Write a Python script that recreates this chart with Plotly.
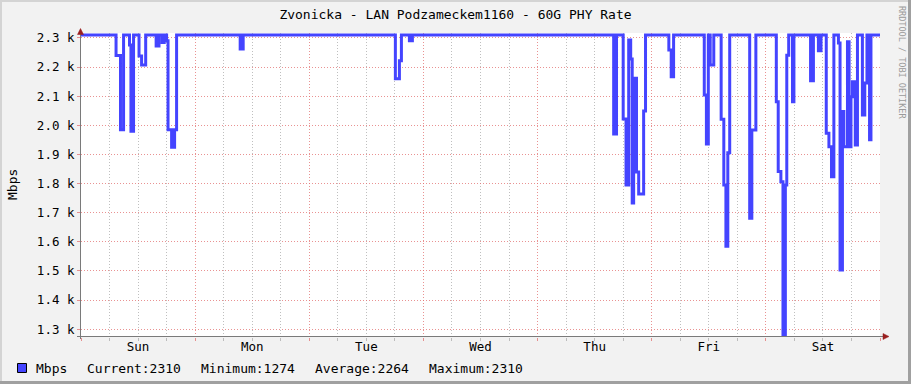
import plotly.graph_objects as go

# ---- data (hours since Sunday 00:00, Mbps) ----
hours = [0, 7.37, 8.3, 8.95, 10.2, 10.5, 11.05, 12.2, 12.74, 13.6, 15.8, 16.4, 17.05, 17.5,
         18.0, 18.3, 19.05, 19.68, 20.1, 33.47, 34.1, 66.1, 66.95, 67.37, 69.05, 69.68,
         112.0, 112.6, 114.0, 114.6, 115.16, 115.58, 115.9, 116.2, 116.8, 117.26, 118.3, 118.7,
         123.6, 124.1, 124.6, 131.05, 131.5, 131.9, 132.3, 133.05, 134.6, 135.16, 135.6, 136.0,
         136.4, 140.6, 141.05, 141.9, 146.2, 146.6, 147.16, 147.6, 148.1, 148.4, 148.8, 149.6,
         149.9, 153.4, 154.0, 155.05, 155.6, 156.7, 157.26, 157.8, 158.3, 159.26, 159.6, 160.1,
         160.4, 161.16, 161.5, 161.9, 162.2, 162.8, 163.26, 164.3, 164.8, 165.26, 165.8, 166.1, 168]
mbps = [2310, 2240, 1985, 2310, 2276, 1980, 2310, 2238, 2207, 2310, 2272, 2310, 2284, 2310,
        2290, 1985, 1925, 1985, 2310, 2262, 2310, 2160, 2222, 2310, 2290, 2310,
        1970, 2310, 2022, 1795, 2293, 2228, 1733, 2162, 1840, 1764, 2049, 2310,
        2259, 2167, 2310, 2104, 1936, 2310, 2207, 2310, 2021, 1795, 1585, 1906,
        2310, 1681, 1984, 2310, 2081, 1841, 1806, 1274, 1795, 2241, 2310, 2081,
        2310, 2153, 2310, 2256, 2310, 1973, 1926, 1823, 2310, 2283, 1503, 2047,
        1926, 2287, 1926, 2098, 2150, 1932, 2310, 2035, 2145, 2310, 1950, 2310, 2310]

day_labels = ["Sun", "Mon", "Tue", "Wed", "Thu", "Fri", "Sat"]
day_centers = [12, 36, 60, 84, 108, 132, 156]
y_ticks = [1300, 1400, 1500, 1600, 1700, 1800, 1900, 2000, 2100, 2200, 2300]
y_ticktext = ["1.3 k", "1.4 k", "1.5 k", "1.6 k", "1.7 k", "1.8 k", "1.9 k",
              "2.0 k", "2.1 k", "2.2 k", "2.3 k"]
legend_items = ["Mbps", "Current:2310", "Minimum:1274", "Average:2264", "Maximum:2310"]

TITLE = "Zvonicka - LAN Podzameckem1160 - 60G PHY Rate"
FONT = "DejaVu Sans Mono"
LINE_COLOR = "#4444FF"
MGRID = "rgba(225,110,110,0.75)"
GRID = "rgba(170,170,170,0.75)"
AXIS = "#7a7a7a"
ARROW = "#9a1f1f"

W, H = 911, 384
L, R, T, B = 81, 31, 33, 47
PW, PH = W - L - R, H - T - B


def px(x):
    return (x - L) / PW


def py(y):
    return (H - B - y) / PH


fig = go.Figure()
fig.add_trace(go.Scatter(x=hours, y=mbps, mode="lines", line=dict(color=LINE_COLOR, width=3, shape="hv"),
                         showlegend=False, hoverinfo="skip"))
# dummy trace for label axis
fig.add_trace(go.Scatter(x=[0, 168], y=[None, None], xaxis="x2", showlegend=False, hoverinfo="skip"))

shapes = []
# axis lines
shapes.append(dict(type="line", xref="paper", yref="paper", x0=px(80.5), x1=px(80.5), y0=py(30), y1=py(339),
                   line=dict(color=AXIS, width=1)))
shapes.append(dict(type="line", xref="paper", yref="paper", x0=px(77), x1=px(884), y0=py(336.5), y1=py(336.5),
                   line=dict(color=AXIS, width=1)))
# arrows
shapes.append(dict(type="path", xref="paper", yref="paper",
                   path=f"M {px(77.5)} {py(34.5)} L {px(80.5)} {py(28.5)} L {px(83.5)} {py(34.5)} Z",
                   fillcolor=ARROW, line=dict(color=ARROW, width=0.5)))
shapes.append(dict(type="path", xref="paper", yref="paper",
                   path=f"M {px(883)} {py(333.5)} L {px(889)} {py(336.5)} L {px(883)} {py(339.5)} Z",
                   fillcolor=ARROW, line=dict(color=ARROW, width=0.5)))
# frame
shapes.append(dict(type="rect", xref="paper", yref="paper", x0=px(0), x1=px(W), y0=py(0), y1=py(2),
                   fillcolor="#d4d4d4", line=dict(width=0), layer="above"))
shapes.append(dict(type="rect", xref="paper", yref="paper", x0=px(0), x1=px(2), y0=py(0), y1=py(H),
                   fillcolor="#d4d4d4", line=dict(width=0), layer="above"))
shapes.append(dict(type="rect", xref="paper", yref="paper", x0=px(0), x1=px(W), y0=py(381), y1=py(H),
                   fillcolor="#a0a0a0", line=dict(width=0), layer="above"))
shapes.append(dict(type="rect", xref="paper", yref="paper", x0=px(908), x1=px(W), y0=py(0), y1=py(H),
                   fillcolor="#a0a0a0", line=dict(width=0), layer="above"))
# legend swatch
shapes.append(dict(type="rect", xref="paper", yref="paper", x0=px(17.5), x1=px(26.5), y0=py(363.5), y1=py(372.5),
                   fillcolor=LINE_COLOR, line=dict(color="black", width=1)))

annotations = []
legend_x = [34, 85, 199, 313, 427]
for txt, lx in zip(legend_items, legend_x):
    annotations.append(dict(text=txt, xref="paper", yref="paper", x=px(lx), y=py(368), xanchor="left",
                            yanchor="middle", showarrow=False, font=dict(family=FONT, size=13, color="black")))
annotations.append(dict(text="Mbps", xref="paper", yref="paper", x=px(12), y=py(185), textangle=-90,
                        xanchor="center", yanchor="middle", showarrow=False,
                        font=dict(family=FONT, size=13, color="black")))
annotations.append(dict(text="RRDTOOL / TOBI OETIKER", xref="paper", yref="paper", x=px(902), y=py(62),
                        textangle=90, xanchor="center", yanchor="middle", showarrow=False,
                        font=dict(family=FONT, size=8.5, color="#9a9a9a")))

fig.update_layout(
    width=W, height=H,
    margin=dict(l=L, r=R, t=T, b=B, pad=0),
    paper_bgcolor="#f2f2f2", plot_bgcolor="white",
    title=dict(text=TITLE, x=0.5, xanchor="center", y=1 - 14 / H, yanchor="middle",
               font=dict(family=FONT, size=13, color="black")),
    xaxis=dict(range=[0, 168], tick0=0, dtick=24, showticklabels=False, showgrid=True,
               gridcolor=MGRID, griddash="1px,2px", gridwidth=1, ticks="outside", ticklen=3,
               tickcolor=MGRID, showline=False, zeroline=False,
               minor=dict(dtick=6, tick0=0, showgrid=True, gridcolor=GRID, griddash="1px,2px",
                          ticks="outside", ticklen=3, tickcolor=GRID)),
    xaxis2=dict(range=[0, 168], overlaying="x", side="bottom", tickvals=day_centers, ticktext=day_labels,
                showgrid=False, ticks="", showline=False, zeroline=False,
                tickfont=dict(family=FONT, size=12.5, color="black")),
    yaxis=dict(range=[1273, 2317], tickvals=y_ticks, ticktext=y_ticktext, showgrid=True,
               gridcolor=MGRID, griddash="1px,2px", ticks="outside", ticklen=3, tickcolor=MGRID,
               showline=False, zeroline=False, tickfont=dict(family=FONT, size=12.5, color="black")),
    shapes=shapes, annotations=annotations,
)

fig.write_html("out.html")
